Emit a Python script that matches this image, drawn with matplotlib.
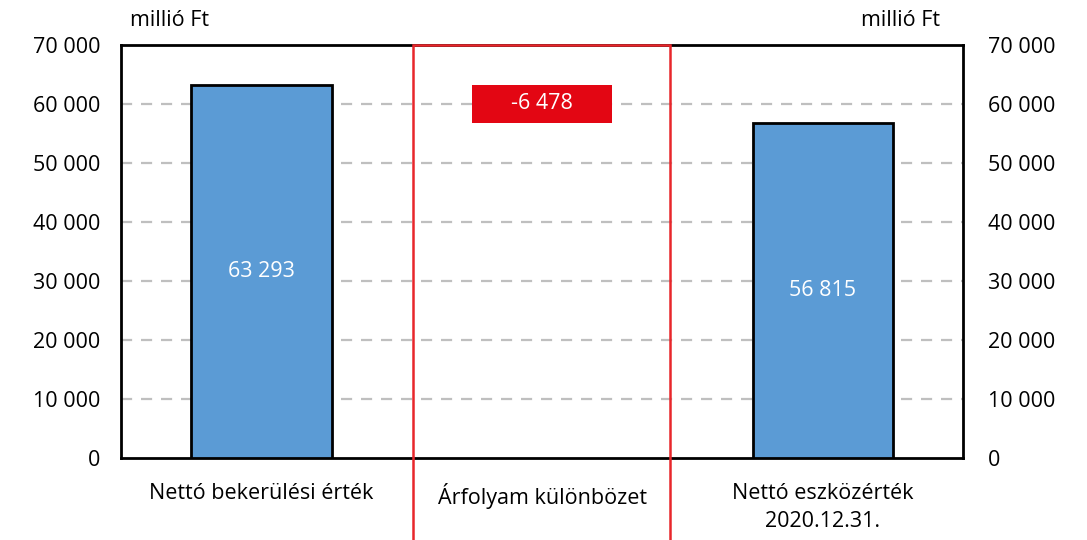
import matplotlib.pyplot as plt
from matplotlib.patches import Rectangle
from matplotlib.ticker import FuncFormatter

plt.rcParams['font.family'] = ['Open Sans', 'DejaVu Sans']

categories = ['Nettó bekerülési érték', 'Árfolyam különbözet', 'Nettó eszközérték\n2020.12.31.']
start_value = 63293
change_value = -6478
end_value = 56815
yticks = list(range(0, 70001, 10000))


def fmt(v, pos=None):
    return f'{int(v):,}'.replace(',', ' ')


fs = 15.5
fig = plt.figure(figsize=(10.87, 5.4), dpi=100)
ax = fig.add_axes([121 / 1087, 1 - 458 / 540, 842 / 1087, 413 / 540])

x = [0, 1, 2]
blue = '#5B9BD5'
red = '#E30613'

ax.bar(x[0], start_value, width=0.5, color=blue, edgecolor='black', linewidth=2, zorder=3)
ax.bar(x[2], end_value, width=0.5, color=blue, edgecolor='black', linewidth=2, zorder=3)
ax.bar(x[1], -change_value, bottom=start_value + change_value, width=0.5,
       color=red, linewidth=0, zorder=3)

ax.text(x[0], start_value / 2, fmt(start_value), color='white', ha='center', va='center', fontsize=fs, zorder=4)
ax.text(x[2], end_value / 2, fmt(end_value), color='white', ha='center', va='center', fontsize=fs, zorder=4)
ax.text(x[1], start_value + change_value / 2, fmt(change_value), color='white',
        ha='center', va='center', fontsize=fs, zorder=4)

ax.set_xlim(-0.5, 2.5)
ax.set_ylim(0, 70000)
ax.set_yticks(yticks)
ax.yaxis.set_major_formatter(FuncFormatter(fmt))
ax.set_xticks(x)
ax.set_xticklabels(categories, fontsize=fs, linespacing=1.45)
ax.tick_params(axis='both', length=0, labelsize=fs)
ax.tick_params(axis='x', pad=18)
ax.tick_params(axis='y', pad=15)

for yv in yticks[1:-1]:
    ax.axhline(yv, color='#BFBFBF', linestyle=(0, (5, 4)), linewidth=1.6, zorder=1)

for s in ax.spines.values():
    s.set_linewidth(2)
    s.set_color('black')

ax2 = ax.twinx()
ax2.set_ylim(0, 70000)
ax2.set_yticks(yticks)
ax2.yaxis.set_major_formatter(FuncFormatter(fmt))
ax2.tick_params(axis='y', length=0, labelsize=fs, pad=18)
for s in ax2.spines.values():
    s.set_visible(False)

# red highlight around the middle category, running off the bottom of the figure
hl = Rectangle((0.54, -40000), 0.915, 110000, fill=False, edgecolor='#E8262B',
               linewidth=1.8, clip_on=False, zorder=5)
ax.add_patch(hl)

fig.text(130 / 1087, 1 - 20 / 540, 'millió Ft', fontsize=fs, ha='left', va='center')
fig.text(940 / 1087, 1 - 20 / 540, 'millió Ft', fontsize=fs, ha='right', va='center')

fig.savefig('out.png', dpi=100)
